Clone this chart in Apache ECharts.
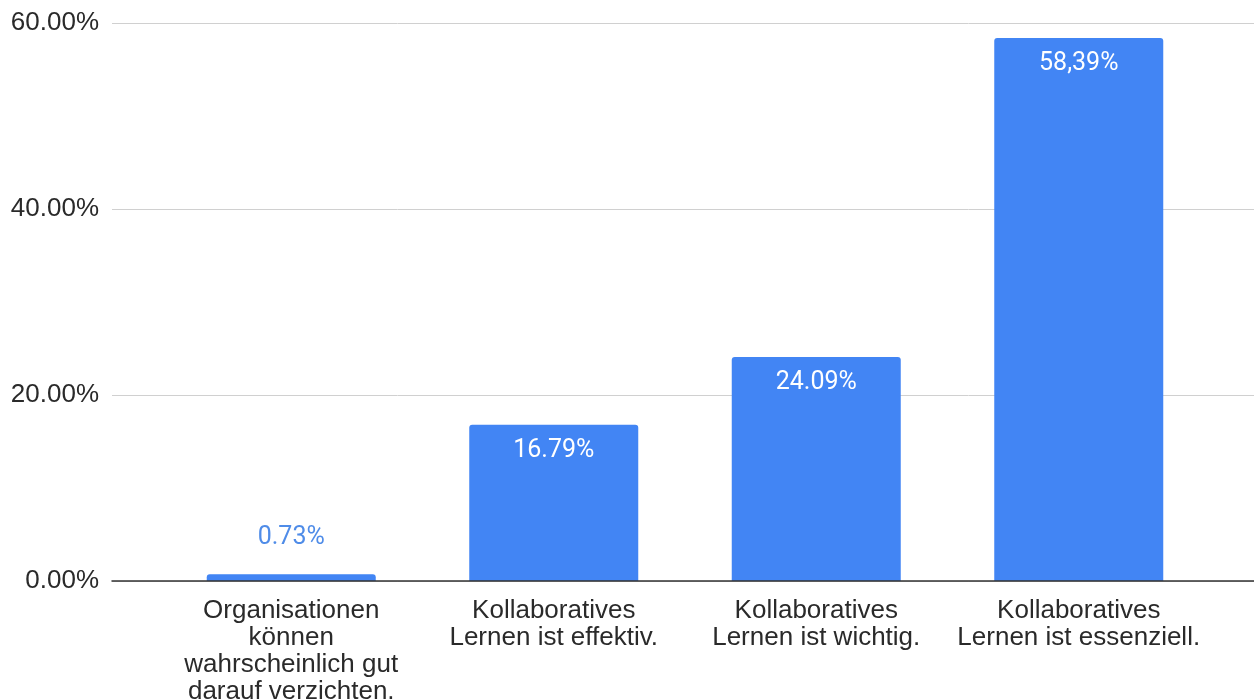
<!DOCTYPE html>
<html>
<head>
<meta charset="utf-8">
<script src="https://cdn.jsdelivr.net/npm/echarts@6/dist/echarts.min.js"></script>
<style>html,body{margin:0;padding:0;background:#fff;}#c{width:1254px;height:699px;}</style>
</head>
<body>
<div id="c"></div>
<script>
var categories = [
  'Organisationen\nkönnen\nwahrscheinlich gut\ndarauf verzichten.',
  'Kollaboratives\nLernen ist effektiv.',
  'Kollaboratives\nLernen ist wichtig.',
  'Kollaboratives\nLernen ist essenziell.'
];
var values = [0.73, 16.79, 24.09, 58.39];
var valueLabels = ['0.73%', '16.79%', '24.09%', '58,39%'];
var yTicks = [0, 20, 40, 60];

var chart = echarts.init(document.getElementById('c'));
var gridTop = 23, gridBottom = 118;
chart.setOption({
  animation: false,
  grid: [
    {left: 160, right: 44, top: gridTop, bottom: gridBottom, containLabel: false, outerBoundsMode: 'none'},
    {left: 112, right: 0, top: gridTop, bottom: gridBottom, containLabel: false, outerBoundsMode: 'none'}
  ],
  xAxis: [
    {type: 'category', gridIndex: 0, data: categories,
     axisLine: {show: false}, axisTick: {show: false},
     axisLabel: {interval: 0, margin: 16, color: '#2a2a2a', fontSize: 26, lineHeight: 27,
                 fontFamily: 'Liberation Sans', hideOverlap: false}},
    {type: 'category', gridIndex: 1, data: [''], z: 5,
     axisLine: {show: true, lineStyle: {color: '#333', width: 1.5}},
     axisTick: {show: false}, axisLabel: {show: false}}
  ],
  yAxis: [
    {type: 'value', gridIndex: 0, min: yTicks[0], max: yTicks[yTicks.length - 1], interval: 20,
     show: false, splitLine: {show: false}},
    {type: 'value', gridIndex: 1, min: yTicks[0], max: yTicks[yTicks.length - 1], interval: 20,
     axisLine: {show: false}, axisTick: {show: false},
     splitLine: {lineStyle: {color: '#d0d0d0', width: 1}},
     axisLabel: {margin: 13, color: '#2a2a2a', fontSize: 26, fontFamily: 'Liberation Sans',
                 formatter: function (v) { return v.toFixed(2) + '%'; }}}
  ],
  series: [{
    type: 'bar', xAxisIndex: 0, yAxisIndex: 0, z: 3,
    barWidth: 169,
    itemStyle: {color: '#4285f4', borderRadius: [3, 3, 0, 0]},
    data: values.map(function (v, i) {
      var small = v < 5;
      return {
        value: v,
        label: small
          ? {show: true, position: 'top', distance: 24, color: '#4f8ce8'}
          : {show: true, position: 'insideTop', distance: 13, color: '#ffffff'}
      };
    }),
    label: {
      fontSize: 25, fontFamily: 'Roboto',
      formatter: function (p) { return valueLabels[p.dataIndex]; }
    }
  }]
});
</script>
</body>
</html>
